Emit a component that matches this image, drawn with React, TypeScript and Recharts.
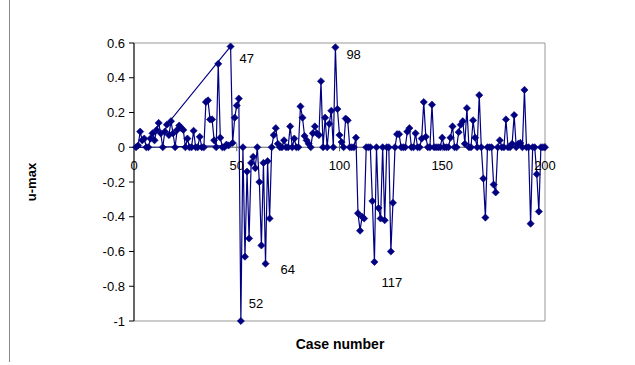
import { LineChart, Line, XAxis, YAxis, ReferenceArea, ReferenceLine, ReferenceDot } from 'recharts';

// u-max per case, case n is at index n-1 of the run of arrays
const uMaxCases1to50 = [
  0, 0.01, 0.09, 0.04, 0.05, 0, 0, 0.05, 0.08, 0.04,
  0.1, 0.14, 0.08, 0, 0.09, 0.13, 0.07, 0.15, 0.08, 0,
  0.1, 0.125, 0.11, 0.1, 0, 0.05, 0, 0, 0.095, 0,
  0, 0.06, 0, 0, 0.26, 0.27, 0.16, 0.16, 0.04, 0,
  0.48, 0.055, 0, 0, 0.015, 0.01, 0.58, 0.025, 0.17, 0.24,
];
const uMaxCases51to100 = [
  0.28, -1, 0, -0.63, -0.14, -0.525, -0.09, -0.055, -0.12, 0,
  -0.2, -0.565, -0.09, -0.67, -0.08, -0.41, 0, 0.07, 0.11, 0.02,
  0, 0, 0.04, 0, 0, 0.12, 0, 0.05, 0, 0,
  0.235, 0.17, 0.065, 0.04, 0.02, 0, 0.08, 0.12, 0.08, 0.07,
  0.38, 0, 0.17, 0, 0.135, 0.21, 0, 0.575, 0.22, 0.07,
];
const uMaxCases101to150 = [
  0.03, 0, 0.165, 0.155, 0, 0, 0, 0.055, -0.38, -0.48,
  -0.4, -0.41, 0, 0, 0, -0.31, -0.66, 0, -0.35, -0.41,
  0, -0.42, 0, 0, -0.6, -0.32, 0, 0.075, 0.075, 0,
  0, 0, 0.09, 0.11, 0, 0, 0.08, 0, 0, 0.05,
  0.26, 0.06, 0, 0, 0.245, 0, 0, 0, 0, 0.055,
];
const uMaxCases151to200 = [
  0, 0, 0, 0.055, 0.12, 0, 0, 0.087, 0.13, 0.15,
  0.02, 0.225, 0, 0, 0.155, 0.055, 0, 0.3, 0, -0.18,
  -0.405, 0, 0, 0, -0.215, -0.26, 0, 0.04, 0, 0,
  0.16, 0, 0, 0.02, 0.185, 0, 0.02, 0.025, 0, 0.33,
  0, 0, -0.44, 0, 0, -0.155, -0.37, 0, 0, 0,
];

// the sheet listed cases 17-46 first, then 1-16, then 47-200
const plotRuns: [number, number][] = [
  [17, 46],
  [1, 16],
  [47, 200],
];

const xTicks = [0, 50, 100, 150, 200];
const yTicks = [-1, -0.8, -0.6, -0.4, -0.2, 0, 0.2, 0.4, 0.6];
const calledOutCases = [47, 52, 64, 98, 117];

// where each case number label sits relative to its point
const calloutOffset: Record<number, [number, number]> = {
  47: [9, 17],
  52: [8, -13],
  64: [15, 10],
  98: [11, 12],
  117: [7, 25],
};

const uMax = [...uMaxCases1to50, ...uMaxCases51to100, ...uMaxCases101to150, ...uMaxCases151to200];

const rows: { caseNo: number; uMax: number }[] = [];
for (const [from, to] of plotRuns) {
  for (let c = from; c <= to; c++) rows.push({ caseNo: c, uMax: uMax[c - 1] });
}

const FONT = '"Liberation Sans", Arial, sans-serif';
const NAVY = '#000080';

function renderDiamond(p: any) {
  const { cx, cy, index } = p;
  if (cx == null || cy == null) return <g key={index} />;
  const s = 3.6;
  return (
    <path
      key={index}
      d={`M${cx},${cy - s}L${cx + s},${cy}L${cx},${cy + s}L${cx - s},${cy}Z`}
      fill={NAVY}
      stroke={NAVY}
      strokeWidth={0.6}
    />
  );
}

const xTickShape = (value: number) => (p: any) => (
  <g>
    <line x1={p.cx} x2={p.cx} y1={p.cy - 4} y2={p.cy + 4} stroke="#666" />
    <text x={p.cx} y={p.cy + 23} textAnchor="middle" fontSize={13} fontFamily={FONT} fill="#000">
      {value}
    </text>
  </g>
);

const calloutShape = (caseNo: number) => (p: any) => {
  const [dx, dy] = calloutOffset[caseNo];
  return (
    <text x={p.cx + dx} y={p.cy + dy} fontSize={13} fontFamily={FONT} fill="#000">
      {caseNo}
    </text>
  );
};

export default function App() {
  return (
    <div style={{ position: 'absolute', left: 0, top: 0, width: 635, height: 365, background: '#fff' }}>
      <div style={{ position: 'absolute', left: 9, top: 0, height: 362, borderLeft: '1px solid #888' }} />
      <LineChart width={635} height={365} data={rows} margin={{ top: 43, right: 90, bottom: 44, left: 74 }}>
        <XAxis type="number" dataKey="caseNo" domain={[0, 200]} hide />
        <YAxis
          type="number"
          domain={[-1, 0.6]}
          ticks={yTicks}
          interval={0}
          width={60}
          tickSize={5}
          tickMargin={4}
          axisLine={{ stroke: '#000' }}
          tickLine={{ stroke: '#000' }}
          tick={{ fill: '#000', fontSize: 13, fontFamily: FONT }}
        />
        <ReferenceArea x1={0} x2={200} y1={-1} y2={0.6} fill="none" stroke="#999" ifOverflow="visible" />
        <ReferenceLine y={0} stroke="#666" />
        {xTicks.map((t) => (
          <ReferenceDot key={`t${t}`} x={t} y={0} r={1} ifOverflow="visible" shape={xTickShape(t)} />
        ))}
        <Line
          type="linear"
          dataKey="uMax"
          stroke={NAVY}
          strokeWidth={1.2}
          dot={renderDiamond}
          activeDot={false}
          isAnimationActive={false}
        />
        {calledOutCases.map((c) => (
          <ReferenceDot
            key={`c${c}`}
            x={c}
            y={uMax[c - 1]}
            r={1}
            ifOverflow="visible"
            shape={calloutShape(c)}
          />
        ))}
      </LineChart>
      <div
        style={{
          position: 'absolute',
          left: 31,
          top: 182,
          transform: 'translate(-50%, -50%) rotate(-90deg)',
          fontFamily: FONT,
          fontWeight: 'bold',
          fontSize: 13,
          whiteSpace: 'nowrap',
        }}
      >
        u-max
      </div>
      <div
        style={{
          position: 'absolute',
          left: 340,
          top: 344,
          transform: 'translate(-50%, -50%)',
          fontFamily: FONT,
          fontWeight: 'bold',
          fontSize: 14,
          whiteSpace: 'nowrap',
        }}
      >
        Case number
      </div>
    </div>
  );
}
